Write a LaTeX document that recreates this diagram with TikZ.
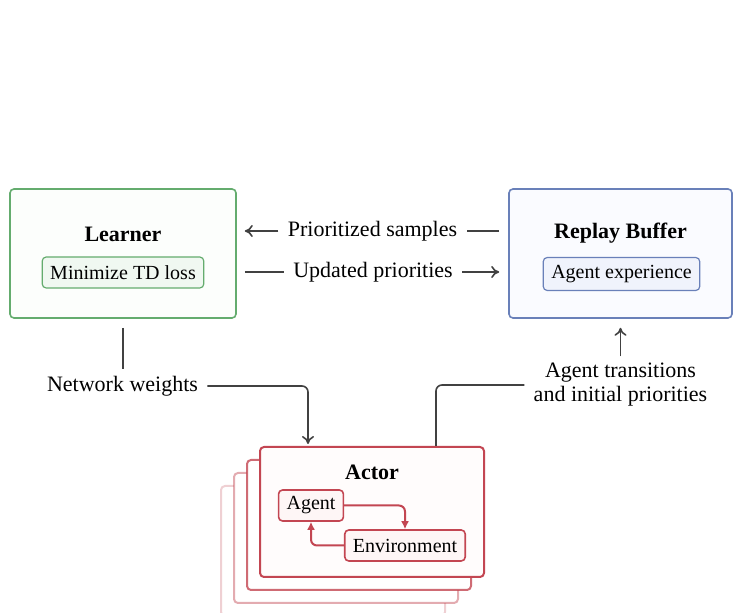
\documentclass[tikz,border=0pt]{standalone}
\usepackage{fontspec}
\setmainfont{Liberation Serif}
\usepackage{tikz}
\usetikzlibrary{arrows.meta,positioning,backgrounds,calc}
\usepackage{xcolor}
\definecolor{cGreen}{RGB}{100,172,110}
\definecolor{cGreenBg}{RGB}{252,254,252}
\definecolor{cGreenIn}{RGB}{240,248,241}
\definecolor{cBlue}{RGB}{105,128,185}
\definecolor{cBlueBg}{RGB}{250,251,255}
\definecolor{cBlueIn}{RGB}{240,243,252}
\definecolor{cRed}{RGB}{195,70,82}
\definecolor{cRedBg}{RGB}{255,252,252}
\definecolor{cRedIn}{RGB}{254,246,246}
\definecolor{cGray}{RGB}{65,65,65}
\tikzset{
  basebox/.style={rectangle,rounded corners=2pt,align=center},
  mainbox/.style={basebox,line width=0.8pt,minimum width=113pt,minimum height=64.5pt},
  learnerbox/.style={mainbox,draw=cGreen,fill=cGreenBg},
  bufferbox/.style={mainbox,draw=cBlue,fill=cBlueBg,minimum width=111.5pt},
  actorbox/.style={mainbox,draw=cRed,fill=cRedBg,line width=1pt,
                   minimum width=112pt,minimum height=65pt},
  titlenode/.style={font=\fontsize{11}{13}\selectfont\bfseries,anchor=base},
  innerbox/.style={basebox,line width=0.6pt,font=\fontsize{10}{12}\selectfont,
                   inner xsep=4pt,minimum height=15.5pt},
  greeninner/.style={innerbox,draw=cGreen,fill=cGreenIn},
  blueinner/.style={innerbox,draw=cBlue,fill=cBlueIn,minimum height=16.5pt},
  redinner/.style={innerbox,draw=cRed,fill=cRedIn,line width=0.8pt},
  lbl/.style={font=\fontsize{11}{12}\selectfont,inner xsep=4.5pt,align=center},
  plainline/.style={draw=cGray,line width=0.8pt},
  arr/.style={plainline,-{To[length=4pt,width=6pt]}},
  redarr/.style={draw=cRed,line width=1pt,rounded corners=3pt,
                 -{Latex[length=4pt,width=4pt]}}
}

\begin{document}
\begin{tikzpicture}[x=0.5pt,y=-0.5pt]
  \useasboundingbox (0,0) rectangle (733,613);

  % learner and replay buffer
  \node[learnerbox] (learner) at (123,253.5) {};
  \node[titlenode] (learnertitle) at (123,242) {Learner};
  \node[greeninner] (tdloss) at (123,272.5) {Minimize TD loss};

  \node[bufferbox] (buffer) at (620.5,253.5) {};
  \node[titlenode] (buffertitle) at (620.5,238.5) {Replay Buffer};
  \node[blueinner] (experience) at (621.5,274) {Agent experience};

  % actor with its copies stacked behind
  \node[actorbox] (actor) at (372,512) {};
  \node[titlenode] (actortitle) at (372,480) {Actor};
  \node[redinner] (agent) at (311,505.5) {Agent};
  \node[redinner] (env) at (405,545.5) {Environment};

  \begin{scope}[on background layer]
    \fill[white] (0,0) rectangle (733,613);
    \foreach \i/\op in {3/0.25,2/0.45,1/0.8}
      \node[actorbox,fill=white,draw opacity=\op] (actorcopy\i)
        at ([shift={(-13*\i,13*\i)}]actor.center) {};
  \end{scope}

  \draw[redarr] (agent.east) -| (env.north);
  \draw[redarr] (env.west) -| (agent.south);

  % labels between the boxes
  \node[lbl] (prio) at (372.5,231) {Prioritized samples};
  \node[lbl] (upd) at (373,272) {Updated priorities};
  \node[lbl] (weights) at (122.5,386) {Network weights};
  \node[lbl] (trans) at (620.5,385) {Agent transitions\\and initial priorities};

  \draw[plainline,shorten <=4.5pt] (buffer.west |- prio) -- (prio.east);
  \draw[arr,shorten >=4pt] (prio.west) -- (learner.east |- prio);
  \draw[plainline,shorten <=4pt] (learner.east |- upd) -- (upd.west);
  \draw[arr,shorten >=4.5pt] (upd.east) -- (buffer.west |- upd);

  \draw[plainline,shorten <=4.5pt] (learner.south) -- (learner.south |- weights.north);
  \draw[arr,rounded corners=3pt,shorten >=1pt] (weights.east) -| ([xshift=-32pt]actor.north);
  \draw[arr,shorten >=4.5pt] (trans.north) -- (trans.north |- buffer.south);
  \draw[plainline,rounded corners=3pt] (trans.west) -| ([xshift=32pt]actor.north);

\end{tikzpicture}
\end{document}
